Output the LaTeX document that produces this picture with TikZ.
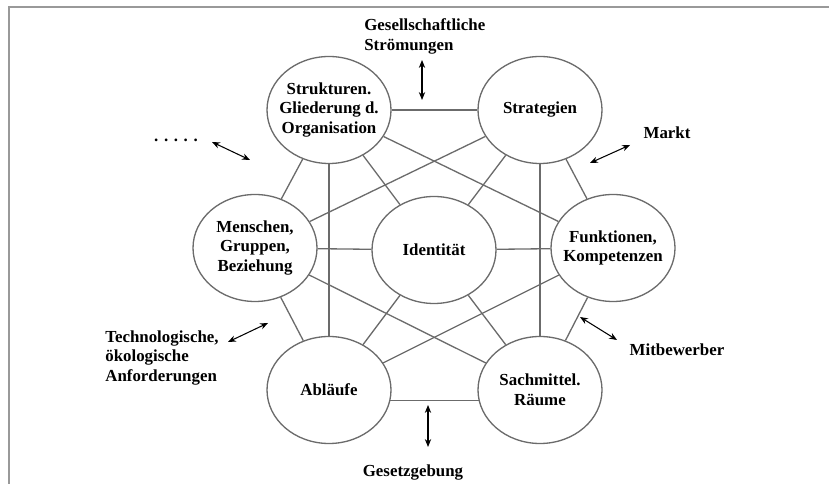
\documentclass[tikz,border=0pt]{standalone}
\usepackage{fontspec}
\setmainfont{Liberation Serif}
\usepackage{tikz}
\usetikzlibrary{arrows.meta,positioning,shapes.geometric}
\usepackage{xcolor}
\definecolor{linkgray}{gray}{0.42}
\definecolor{framegray}{gray}{0.6}
\newcommand{\lblfont}{\fontsize{9.6}{11.3}\selectfont\bfseries}

\begin{document}
\begin{tikzpicture}[
    fieldbox/.style={ellipse, draw=linkgray, line width=0.75pt,
                minimum width=2.48cm, minimum height=2.14cm,
                inner sep=0pt, fill=white},
    inlbl/.style={align=center, font=\lblfont, inner sep=0pt},
    outlbl/.style={align=left, font=\lblfont, inner sep=0pt},
    link/.style={draw=linkgray, line width=0.75pt},
    pull/.style={{Stealth[length=4.5pt,width=3.6pt]}-{Stealth[length=4.5pt,width=3.6pt]},
                 line width=0.6pt, black},
  ]
  \useasboundingbox (0,0) rectangle (16.58,9.68);

  %% Frame (only top and left edge visible)
  \draw[framegray, line width=0.9pt] (0.18,0) -- (0.18,9.54) -- (16.58,9.54);

  %% Fields of the organisation
  \node[fieldbox, label={[inlbl]center:Identität}] (ident) at (8.68,4.68) {};
  \node[fieldbox, label={[inlbl]center:Strukturen.\\Gliederung d.\\Organisation}] (strukt) at (6.58,7.48) {};
  \node[fieldbox, label={[inlbl]center:Strategien}] (strat) at (10.80,7.48) {};
  \node[fieldbox, label={[inlbl]center:Menschen,\\Gruppen,\\Beziehung}] (mensch) at (5.10,4.72) {};
  \node[fieldbox, label={[inlbl]center:Funktionen,\\Kompetenzen}] (funkt) at (12.26,4.72) {};
  \node[fieldbox, label={[inlbl]center:Abläufe}] (abl) at (6.58,1.88) {};
  \node[fieldbox, label={[inlbl]center:Sachmittel.\\Räume}] (sach) at (10.80,1.88) {};

  %% Links between the fields
  \draw[link] (strukt) -- (strat);
  \draw[link] (strukt) -- (mensch);
  \draw[link] (strukt) -- (abl);
  \draw[link] (strukt) -- (ident);
  \draw[link] (strukt) -- (funkt);
  \draw[link] (strat) -- (mensch);
  \draw[link] (strat) -- (ident);
  \draw[link] (strat) -- (sach);
  \draw[link] (strat) -- (funkt);
  \draw[link] (mensch) -- (ident);
  \draw[link] (mensch) -- (sach);
  \draw[link] (mensch) -- (abl);
  \draw[link] (ident) -- (funkt);
  \draw[link] (ident) -- (abl);
  \draw[link] (ident) -- (sach);
  \draw[link] (funkt) -- (abl);
  \draw[link] (funkt) -- (sach);
  \draw[link] (abl.-10) -- (sach.190);

  %% Outside influences
  \node[outlbl, anchor=west] (gesell) at (7.28,8.95) {Gesellschaftliche\\Strömungen};
  \node[outlbl] (markt) at (13.34,7.02) {Markt};
  \node[outlbl] (mitbew) at (13.54,2.68) {Mitbewerber};
  \node[outlbl] (gesetz) at (8.26,0.22) {Gesetzgebung};
  \node[outlbl, anchor=west] (techno) at (2.10,2.52) {Technologische,\\ökologische\\Anforderungen};
  \node[outlbl] (etc) at (3.52,6.88) {. . . . .};

  \coordinate (gesellA) at (8.44,8.48);  \coordinate (gesellB) at (8.44,7.68);
  \coordinate (gesetzA) at (8.56,1.58);  \coordinate (gesetzB) at (8.56,0.74);
  \coordinate (etcA) at (4.24,6.84);     \coordinate (etcB) at (5.00,6.48);
  \coordinate (marktA) at (11.80,6.42);  \coordinate (marktB) at (12.60,6.78);
  \coordinate (mitbewA) at (11.60,3.34); \coordinate (mitbewB) at (12.34,2.88);
  \coordinate (technoA) at (4.56,2.84);  \coordinate (technoB) at (5.36,3.22);

  \draw[pull] (gesellA) -- (gesellB);
  \draw[pull] (gesetzA) -- (gesetzB);
  \draw[pull] (etcA) -- (etcB);
  \draw[pull] (marktA) -- (marktB);
  \draw[pull] (mitbewA) -- (mitbewB);
  \draw[pull] (technoA) -- (technoB);

\end{tikzpicture}
\end{document}
